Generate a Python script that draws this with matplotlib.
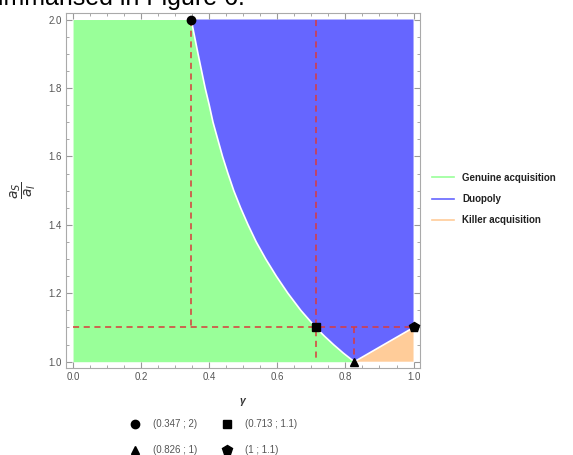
import matplotlib.pyplot as plt
from matplotlib.lines import Line2D
from matplotlib.ticker import MultipleLocator

plt.rcParams['font.family'] = ['Liberation Sans', 'DejaVu Sans']

# boundary between genuine acquisition and duopoly
ratio_pts = [2.0, 1.9, 1.8, 1.75, 1.7, 1.65, 1.6, 1.55, 1.5, 1.45, 1.4, 1.35, 1.3,
             1.25, 1.2, 1.15, 1.1, 1.075, 1.05, 1.025, 1.0]
gamma_pts = [0.347, 0.367, 0.388, 0.400, 0.411, 0.425, 0.439, 0.455, 0.472, 0.492,
             0.514, 0.538, 0.566, 0.597, 0.631, 0.669, 0.713, 0.738, 0.765, 0.794, 0.826]

# boundary of the killer acquisition zone
killer_gamma = [0.826, 1.0]
killer_ratio = [1.0, 1.1]

# marked points
point_x = [0.347, 0.713, 0.826, 1.0]
point_y = [2.0, 1.1, 1.0, 1.1]
point_labels = ['(0.347 ; 2)', '(0.713 ; 1.1)', '(0.826 ; 1)', '(1 ; 1.1)']
point_markers = ['o', 's', '^', 'p']

region_labels = ['Genuine acquisition', 'Duopoly', 'Killer acquisition']
GREEN, BLUE, PEACH = '#99ff99', '#6666ff', '#ffcc99'
RED = '#d93a3a'

fig = plt.figure(figsize=(5.73, 4.55), dpi=100)
ax = fig.add_axes([0.1147, 0.1912, 0.6180, 0.7802])

# regions
ax.fill_betweenx(ratio_pts, 0, gamma_pts, color=GREEN, lw=0)
blue_x = gamma_pts + killer_gamma[1:] + [1.0]
blue_y = ratio_pts + killer_ratio[1:] + [2.0]
ax.fill(blue_x, blue_y, color=BLUE, lw=0)
ax.fill(killer_gamma + [1.0], killer_ratio + [1.0], color=PEACH, lw=0)
ax.plot(gamma_pts, ratio_pts, color='white', lw=1.2)
ax.plot(killer_gamma, killer_ratio, color='white', lw=1.2)

# dashed guide lines
dash = dict(color=RED, lw=1.1, ls=(0, (4, 3)))
ax.plot([point_x[0], point_x[0]], [2.0, 1.1], **dash)
ax.plot([0, 1], [1.1, 1.1], **dash)
ax.plot([point_x[1], point_x[1]], [2.0, 1.0], **dash)
ax.plot([point_x[2], point_x[2]], [1.1, 1.0], **dash)

handles = []
for x, y, m, lab in zip(point_x, point_y, point_markers, point_labels):
    h, = ax.plot(x, y, marker=m, color='black', ms=6 if m != 'p' else 7, ls='none',
                 label=lab, clip_on=False, zorder=5)
    handles.append(h)

ax.set_xlim(-0.0215, 1.0185)
ax.set_ylim(0.9816, 2.019)

ax.xaxis.set_major_locator(MultipleLocator(0.2))
ax.xaxis.set_minor_locator(MultipleLocator(0.05))
ax.yaxis.set_major_locator(MultipleLocator(0.2))
ax.yaxis.set_minor_locator(MultipleLocator(0.05))
ax.xaxis.set_major_formatter(lambda v, p: f'{v:.1f}')
ax.yaxis.set_major_formatter(lambda v, p: f'{v:.1f}')
ax.tick_params(which='both', direction='in', top=True, right=True, color='#999999',
               labelsize=7, labelcolor='#555555', pad=3)
ax.tick_params(which='major', length=4)
ax.tick_params(which='minor', length=2)
for s in ax.spines.values():
    s.set_color('#aaaaaa')

ax.set_xlabel('γ', fontsize=7.5, color='#333333', style='italic', weight='bold',
              labelpad=10)
ax.set_ylabel(r'$\dfrac{a_S}{a_I}$', fontsize=10, color='#333333')
ax.yaxis.set_label_coords(-0.078, 0.5)

# region legend
region_handles = [Line2D([], [], color=c, lw=1.2) for c in (GREEN, BLUE, PEACH)]
leg1 = ax.legend(region_handles, region_labels, loc='center left',
                 bbox_to_anchor=(1.01, 0.476), frameon=False, handlelength=2.3,
                 labelspacing=1.15, prop={'size': 7, 'weight': 'bold'})
for t in leg1.get_texts():
    t.set_color('#222222')
ax.add_artist(leg1)

# point legend
order = [handles[0], handles[2], handles[1], handles[3]]
leg2 = ax.legend(order, [h.get_label() for h in order], ncol=2, loc='upper left',
                 bbox_to_anchor=(0.158, -0.12), frameon=False, handlelength=1,
                 columnspacing=2.6, labelspacing=1.62, handletextpad=1.3,
                 prop={'size': 7})
for t in leg2.get_texts():
    t.set_color('#555555')

fig.text(245 / 573, 1 - 5 / 455, 'summarised in Figure 6.', ha='right', va='baseline',
         fontsize=18, color='black')

fig.savefig('out.png', dpi=100)
